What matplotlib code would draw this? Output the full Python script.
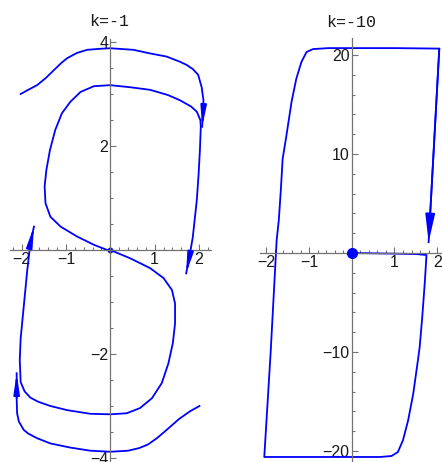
import numpy as np
import matplotlib
matplotlib.use("Agg")
import matplotlib.pyplot as plt
from matplotlib.ticker import MultipleLocator, FixedLocator

# ---- data (phase trajectories) ----
# k = -1 panel
top_x = [-2.02, -1.85, -1.65, -1.45, -1.27, -1.10, -0.97, -0.75, -0.52, -0.22, 0.0,
         0.52, 0.90, 1.27, 1.57, 1.72, 1.86, 1.98, 2.06, 2.10, 2.09, 2.07]
top_y = [3.00, 3.08, 3.17, 3.31, 3.46, 3.60, 3.69, 3.79, 3.85, 3.87, 3.88,
         3.85, 3.78, 3.72, 3.62, 3.56, 3.48, 3.37, 3.13, 2.88, 2.62, 2.37]

bot_x = [2.01, 1.80, 1.55, 1.27, 1.05, 0.85, 0.65, 0.40, 0.0, -0.45, -0.90, -1.35,
         -1.65, -1.85, -1.95, -2.06, -2.10, -2.11, -2.11]
bot_y = [-3.00, -3.10, -3.25, -3.46, -3.62, -3.74, -3.81, -3.86, -3.88, -3.86, -3.80, -3.72,
         -3.62, -3.53, -3.46, -3.30, -3.14, -2.85, -2.37]

in1_x = [0.0, -0.07, -0.37, -0.75, -1.12, -1.35, -1.46, -1.48, -1.44, -1.36, -1.24,
         -1.09, -0.90, -0.67, -0.37, 0.0, 0.45, 0.90, 1.30, 1.57, 1.82, 1.95, 2.03,
         2.04, 2.02, 1.99, 1.95, 1.86, 1.78, 1.71]
in1_y = [0.0, 0.0, 0.10, 0.26, 0.45, 0.64, 0.90, 1.22, 1.54, 1.92, 2.31,
         2.63, 2.85, 3.04, 3.15, 3.17, 3.13, 3.08, 2.98, 2.88, 2.76, 2.66, 2.50,
         2.37, 1.92, 1.45, 0.96, 0.25, -0.15, -0.45]

in2_x = [0.0, 0.45, 0.90, 1.20, 1.39, 1.46, 1.46, 1.41, 1.31, 1.16, 0.94, 0.67,
         0.37, 0.0, -0.45, -0.97, -1.35, -1.62, -1.80, -1.93, -2.02, -2.04, -2.02,
         -1.98, -1.87, -1.80, -1.72]
in2_y = [0.0, -0.16, -0.35, -0.54, -0.77, -1.03, -1.41, -1.79, -2.18, -2.56, -2.85, -3.04,
         -3.14, -3.16, -3.15, -3.08, -3.00, -2.92, -2.84, -2.72, -2.54, -2.12, -1.70,
         -1.35, -0.38, 0.13, 0.45]

# k = -10 panel
r_x = [0.0, 0.5, 1.0, 1.5, 1.75, 1.71, 1.65, 1.59, 1.55, 1.44, 1.32, 1.20, 1.08,
       0.93, 0.66, 0.0, -1.0, -2.05, -1.90, -1.76, -1.71, -1.66, -1.62, -1.53, -1.41,
       -1.30, -1.18, -1.06, -0.91, -0.55, 0.0, 1.0, 2.05, 1.80]
r_y = [0.0, -0.03, -0.06, -0.1, -0.2, -3.0, -6.5, -9.5, -10.8, -14.2, -16.9, -18.9, -20.1,
       -20.5, -20.6, -20.6, -20.6, -20.6, -10.0, 1.3, 3.3, 6.5, 9.5, 11.9, 15.3,
       17.6, 19.3, 20.3, 20.6, 20.7, 20.7, 20.7, 20.65, 1.1]

titles = ["k=-1", "k=-10"]

blue = "#0000ff"
tick_font = "Liberation Sans"


def setup_axis(ax, xlim, ylim, yminor, yticks):
    ax.set_xlim(*xlim)
    ax.set_ylim(*ylim)
    for s in ["top", "right"]:
        ax.spines[s].set_visible(False)
    for s in ["left", "bottom"]:
        ax.spines[s].set_position(("data", 0))
        ax.spines[s].set_color("0.45")
        ax.spines[s].set_linewidth(0.9)
    ax.xaxis.set_major_locator(FixedLocator([-2, -1, 1, 2]))
    ax.xaxis.set_minor_locator(MultipleLocator(0.2))
    ax.yaxis.set_major_locator(FixedLocator(yticks))
    ax.yaxis.set_minor_locator(MultipleLocator(yminor))
    ax.tick_params(which="both", direction="in", colors="0.45", labelcolor="0.1",
                   labelsize=11.5, width=0.8)
    ax.tick_params(which="major", length=4, pad=1.5)
    ax.tick_params(which="minor", length=2)
    for lab in ax.get_xticklabels() + ax.get_yticklabels():
        lab.set_fontfamily(tick_font)
    ax.patch.set_visible(False)


def curve(ax, xs, ys, arrow=False, hl=1.5, hw=0.22):
    ax.plot(xs, ys, color=blue, lw=1.3, clip_on=False, solid_joinstyle="round")
    if arrow:
        ax.annotate("", xy=(xs[-1], ys[-1]), xytext=(xs[-2], ys[-2]),
                    arrowprops=dict(arrowstyle="-|>,head_length=%g,head_width=%g" % (hl, hw),
                                    color=blue, lw=1.3, shrinkA=0, shrinkB=0,
                                    mutation_scale=8))


fig = plt.figure(figsize=(4.42, 4.62), dpi=100)

ax1 = fig.add_axes([10 / 442, -0.0082, 201 / 442, 0.9229])
setup_axis(ax1, (-2.26, 2.27), (-4.15, 4.05), 0.5, [-4, -2, 2, 4])
curve(ax1, top_x, top_y, arrow=True)
curve(ax1, bot_x, bot_y, arrow=True)
curve(ax1, in1_x, in1_y, arrow=True)
curve(ax1, in2_x, in2_y, arrow=True)
ax1.plot([0], [0], "o", color=blue, ms=3.2, clip_on=False)

ax2 = fig.add_axes([260 / 442, -0.002, 185.7 / 442, 0.9193])
setup_axis(ax2, (-2.15, 2.2), (-21.2, 21.7), 2, [-20, -10, 10, 20])
curve(ax2, r_x, r_y, arrow=True, hl=2.1, hw=0.36)
ax2.plot([0], [0], "o", color=blue, ms=7, clip_on=False, zorder=5)

fig.text(109 / 442, 1 - 22 / 462, titles[0], ha="center", va="center",
         family="Liberation Mono", fontsize=12, color="0.1")
fig.text(351 / 442, 1 - 22.5 / 462, titles[1], ha="center", va="center",
         family="Liberation Mono", fontsize=12, color="0.1")

fig.savefig("out.png", dpi=100)
